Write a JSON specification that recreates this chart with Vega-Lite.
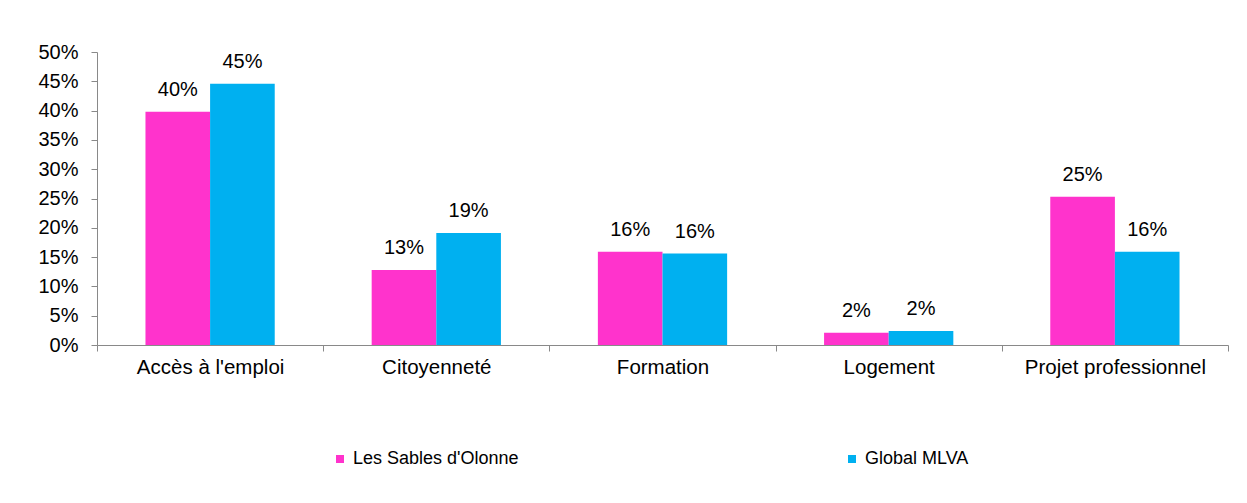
{
  "$schema": "https://vega.github.io/schema/vega-lite/v6.json",
  "width": 1131,
  "height": 293,
  "autosize": {"type": "none"},
  "padding": {"left": 97, "top": 52, "right": 19, "bottom": 158},
  "background": "white",
  "config": {
    "font": "Liberation Sans",
    "view": {"stroke": null}
  },
  "data": {
    "values": [
      {"categorie": "Accès à l'emploi", "serie": "Les Sables d'Olonne", "valeur": 0.398},
      {"categorie": "Accès à l'emploi", "serie": "Global MLVA", "valeur": 0.446},
      {"categorie": "Citoyenneté", "serie": "Les Sables d'Olonne", "valeur": 0.128},
      {"categorie": "Citoyenneté", "serie": "Global MLVA", "valeur": 0.191},
      {"categorie": "Formation", "serie": "Les Sables d'Olonne", "valeur": 0.159},
      {"categorie": "Formation", "serie": "Global MLVA", "valeur": 0.156},
      {"categorie": "Logement", "serie": "Les Sables d'Olonne", "valeur": 0.021},
      {"categorie": "Logement", "serie": "Global MLVA", "valeur": 0.024},
      {"categorie": "Projet professionnel", "serie": "Les Sables d'Olonne", "valeur": 0.253},
      {"categorie": "Projet professionnel", "serie": "Global MLVA", "valeur": 0.159}
    ]
  },
  "encoding": {
    "x": {
      "field": "categorie",
      "type": "nominal",
      "sort": null,
      "title": null,
      "scale": {"paddingInner": 0, "paddingOuter": 0},
      "axis": {
        "labelAngle": 0,
        "tickBand": "extent",
        "domainColor": "#898989",
        "tickColor": "#898989",
        "tickSize": 6,
        "labelFontSize": 20.5,
        "labelColor": "#000000",
        "labelPadding": 6,
        "labelLimit": 400
      }
    },
    "xOffset": {
      "field": "serie",
      "type": "nominal",
      "sort": ["Les Sables d'Olonne", "Global MLVA"],
      "scale": {"paddingInner": 0, "paddingOuter": 0.75}
    },
    "y": {
      "field": "valeur",
      "type": "quantitative",
      "title": null,
      "scale": {"domain": [0, 0.5], "nice": false},
      "axis": {
        "format": ".0%",
        "values": [0, 0.05, 0.1, 0.15, 0.2, 0.25, 0.3, 0.35, 0.4, 0.45, 0.5],
        "grid": false,
        "domainColor": "#898989",
        "tickColor": "#898989",
        "tickSize": 6,
        "labelFontSize": 20,
        "labelColor": "#000000",
        "labelPadding": 13
      }
    }
  },
  "layer": [
    {
      "mark": {"type": "bar"},
      "encoding": {
        "color": {
          "field": "serie",
          "type": "nominal",
          "sort": ["Les Sables d'Olonne", "Global MLVA"],
          "scale": {"domain": ["Les Sables d'Olonne", "Global MLVA"], "range": ["#FF33CC", "#00B0F0"]},
          "legend": {
            "title": null,
            "orient": "none",
            "legendX": 234,
            "legendY": 398,
            "direction": "horizontal",
            "columns": 2,
            "columnPadding": 324,
            "padding": 0,
            "symbolType": "square",
            "symbolSize": 64,
            "symbolStrokeWidth": 0,
            "labelFontSize": 18,
            "labelColor": "#000000",
            "labelOffset": 4,
            "labelLimit": 400
          }
        }
      }
    },
    {
      "mark": {"type": "text", "baseline": "alphabetic", "dy": -16, "fontSize": 20, "color": "#000000"},
      "encoding": {
        "text": {"field": "valeur", "type": "quantitative", "format": ".0%"}
      }
    }
  ]
}
